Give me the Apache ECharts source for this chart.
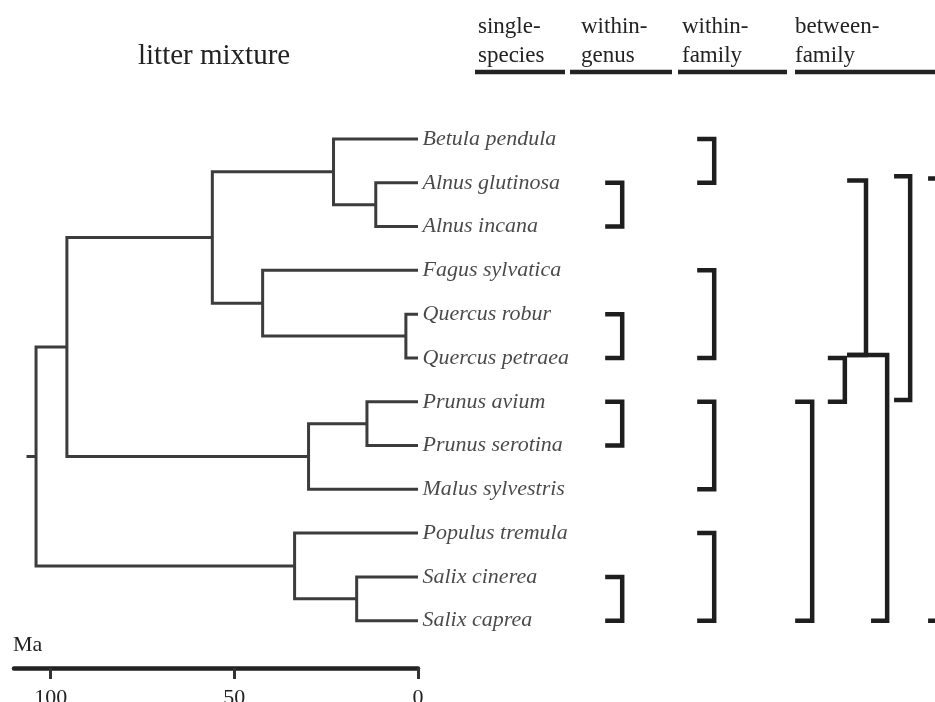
<!DOCTYPE html>
<html>
<head>
<meta charset="utf-8">
<title>litter mixture</title>
<script src="https://cdn.jsdelivr.net/npm/echarts@6/dist/echarts.min.js"></script>
<style>
  html, body { margin: 0; padding: 0; background: #fff; }
  #chart { width: 935px; height: 702px; }
</style>
</head>
<body>
<div id="chart"></div>
<script>
// species, top to bottom (row index = position in this list)
const species = [
  'Betula pendula', 'Alnus glutinosa', 'Alnus incana', 'Fagus sylvatica',
  'Quercus robur', 'Quercus petraea', 'Prunus avium', 'Prunus serotina',
  'Malus sylvestris', 'Populus tremula', 'Salix cinerea', 'Salix caprea'
];

// internal nodes of the tree, ages in Ma
const nodeNames = ['Alnus', 'Betulaceae', 'Quercus', 'Fagaceae', 'Fagales', 'Prunus',
  'Rosaceae', 'Fagales+Rosaceae', 'Salix', 'Salicaceae', 'root'];
const nodeAges = [11.5, 23, 3.3, 42.3, 56, 13.9, 29.8, 95.6, 16.7, 33.6, 104];
const nodeChildren = [
  ['Alnus glutinosa', 'Alnus incana'],
  ['Betula pendula', 'Alnus'],
  ['Quercus robur', 'Quercus petraea'],
  ['Fagus sylvatica', 'Quercus'],
  ['Betulaceae', 'Fagaceae'],
  ['Prunus avium', 'Prunus serotina'],
  ['Prunus', 'Malus sylvestris'],
  ['Fagales', 'Rosaceae'],
  ['Salix cinerea', 'Salix caprea'],
  ['Populus tremula', 'Salix'],
  ['Fagales+Rosaceae', 'Salicaceae']
];
const rootStemAge = 106.6;
const maTicks = [0, 50, 100];

// mixture brackets: [column position, top row, bottom row, top tick, bottom tick]
const withinGenus = [[32, 1, 2, 3.7, 3.7], [32, 4, 5, 3.7, 3.7], [32, 6, 7, 3.7, 3.7], [32, 10, 11, 3.7, 3.7]];
const withinFamily = [[52, 0, 1, 3.7, 3.7], [52, 3, 5, 3.7, 3.7], [52, 6, 8, 3.7, 3.7], [52, 9, 11, 3.7, 3.7]];
const betweenFamily = [
  [73.3, 6, 11, 3.7, 3.7],
  [80.4, 5, 6, 3.7, 3.7],
  [85.0, 0.95, 4.93, 4.1, 4.1],
  [89.6, 4.93, 11, 8.7, 3.5],
  [94.6, 0.85, 5.96, 3.5, 3.5],
  [102.2, 0.9, 11, 3.7, 3.7]
];

const headers = ['single-\nspecies', 'within-\ngenus', 'within-\nfamily', 'between-\nfamily'];

// --- build tree geometry from the arrays ---
const pos = {};
species.forEach((s, i) => { pos[s] = { age: 0, y: i }; });
nodeNames.forEach((n, i) => {
  const a = pos[nodeChildren[i][0]], b = pos[nodeChildren[i][1]];
  pos[n] = { age: nodeAges[i], y: (a.y + b.y) / 2 };
});
const treeData = nodeNames.map((n, i) => {
  const a = pos[nodeChildren[i][0]], b = pos[nodeChildren[i][1]];
  return [nodeAges[i], pos[n].y, a.age, a.y, b.age, b.y];
});
const root = pos['root'];

const serif = '"Liberation Serif", "DejaVu Serif", serif';
const chart = echarts.init(document.getElementById('chart'));

function renderTree(params, api) {
  const age = api.value(0);
  const pts = [
    api.coord([api.value(2), api.value(3)]),
    api.coord([age, api.value(3)]),
    api.coord([age, api.value(5)]),
    api.coord([api.value(4), api.value(5)])
  ];
  return {
    type: 'polyline',
    shape: { points: pts },
    style: { stroke: '#3c3c3c', lineWidth: 3, fill: null, lineJoin: 'miter' }
  };
}

function renderBracket(params, api) {
  const x = api.value(0), top = api.value(1), bot = api.value(2);
  const pts = [
    api.coord([x - api.value(3), top]),
    api.coord([x, top]),
    api.coord([x, bot]),
    api.coord([x - api.value(4), bot])
  ];
  return {
    type: 'polyline',
    shape: { points: pts },
    style: { stroke: '#1e1e1e', lineWidth: 4.5, fill: null, lineJoin: 'miter' }
  };
}

const headerX = [478, 581, 682, 795];
const underline = [[475, 565], [570, 672], [678, 787], [795, 935]];
const graphics = [
  { type: 'text', left: 138, top: 42, style: { text: 'litter mixture', font: '29px ' + serif, fill: '#222' } },
  { type: 'text', left: 13, top: 634, style: { text: 'Ma', font: '22px ' + serif, fill: '#222' } }
];
headers.forEach((h, i) => {
  graphics.push({ type: 'text', left: headerX[i], top: 12,
    style: { text: h, font: '23px ' + serif, lineHeight: 29, fill: '#222' } });
  graphics.push({ type: 'line', shape: { x1: underline[i][0], y1: 72, x2: underline[i][1], y2: 72 },
    style: { stroke: '#222', lineWidth: 4.5 } });
});

const bracketSeries = [withinGenus, withinFamily, betweenFamily].map(d => ({
  type: 'custom', xAxisIndex: 1, yAxisIndex: 1, renderItem: renderBracket, data: d, silent: true
}));

chart.setOption({
  animation: false,
  backgroundColor: '#fff',
  graphic: graphics,
  grid: [
    { left: 14, width: 404, top: 95.2, bottom: 34, outerBoundsMode: 'none', containLabel: false },
    { left: 475, right: 0, top: 95.2, bottom: 34, outerBoundsMode: 'none', containLabel: false }
  ],
  xAxis: [
    {
      type: 'value', gridIndex: 0, min: 0, max: 110, inverse: true, interval: 50,
      axisLine: { onZero: false, lineStyle: { color: '#222', width: 4.5 } },
      axisTick: { length: 11, customValues: maTicks, lineStyle: { color: '#333', width: 3 } },
      axisLabel: { customValues: maTicks, margin: 19, color: '#222', fontSize: 22, fontFamily: serif },
      splitLine: { show: false }
    },
    { type: 'value', gridIndex: 1, min: 0, max: 100, show: false }
  ],
  yAxis: [
    { type: 'value', gridIndex: 0, min: -1, max: 12.08, inverse: true, show: false },
    { type: 'value', gridIndex: 1, min: -1, max: 12.08, inverse: true, show: false }
  ],
  series: [
    { type: 'custom', renderItem: renderTree, data: treeData, silent: true },
    {
      type: 'line', data: [[root.age, root.y], [rootStemAge, root.y]], showSymbol: false, silent: true,
      lineStyle: { color: '#3c3c3c', width: 3 }
    },
    {
      type: 'scatter', symbolSize: 1, silent: true,
      itemStyle: { color: 'transparent' },
      data: species.map((s, i) => [0, i, s]),
      label: {
        show: true, position: 'right', distance: 4,
        formatter: p => p.value[2],
        fontFamily: serif, fontStyle: 'italic', fontSize: 22, color: '#1a1a1a'
      }
    }
  ].concat(bracketSeries)
});
</script>
</body>
</html>
